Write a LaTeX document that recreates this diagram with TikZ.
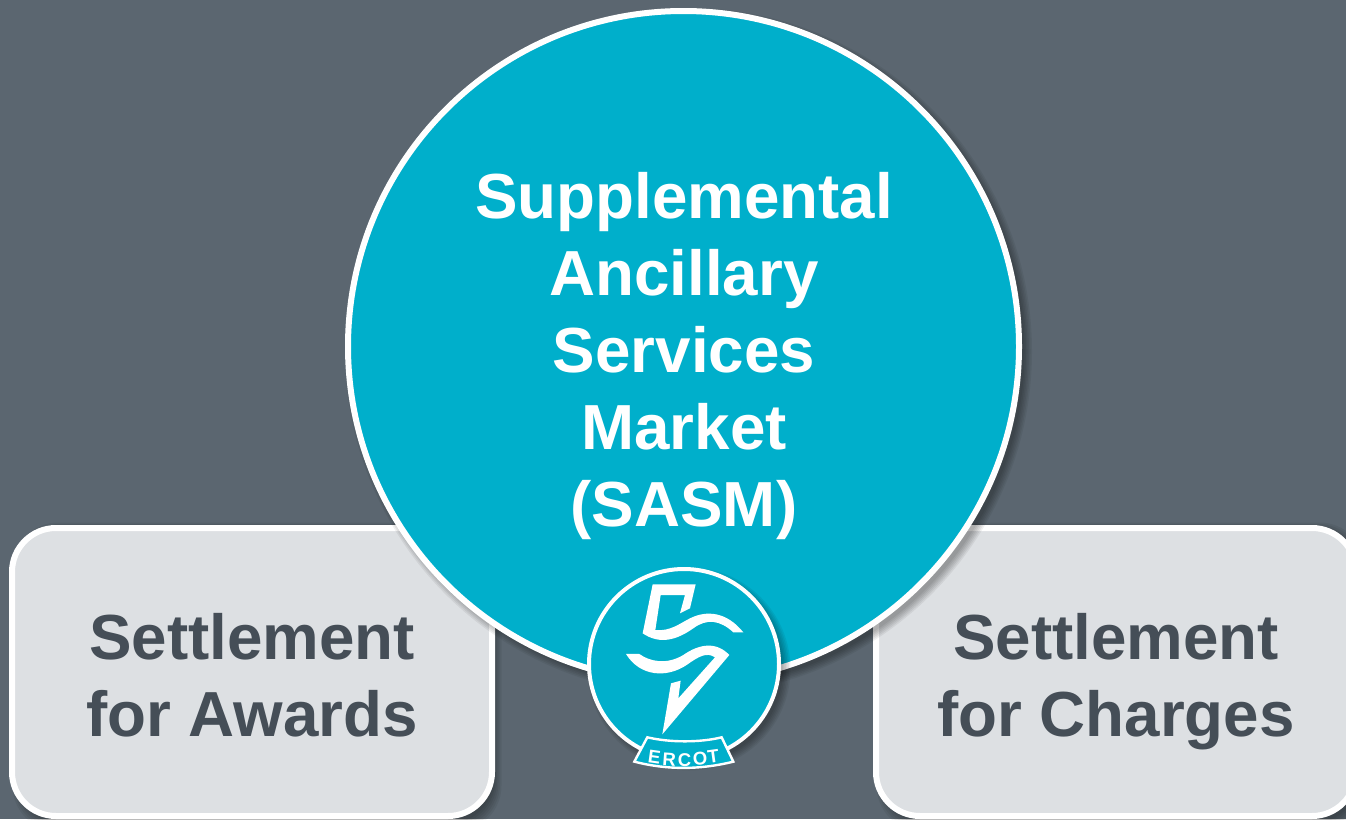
\documentclass[tikz,border=0pt]{standalone}
\usepackage{fontspec}
\setmainfont{Liberation Sans}
\definecolor{bgc}{HTML}{5B6670}
\definecolor{teal}{HTML}{00AFCB}
\definecolor{boxc}{HTML}{DDE0E3}
\definecolor{inkc}{HTML}{454E57}
\tikzset{
  settlebox/.style={draw=white,line width=6pt,fill=boxc,rounded corners=44pt,minimum width=480pt,minimum height=288pt,inner sep=0pt,outer sep=0pt},
  boxtext/.style={font=\fontsize{63.7}{77}\selectfont\bfseries,text=inkc,align=center,inner sep=0pt},
  circtext/.style={font=\fontsize{63.7}{77.2}\selectfont\bfseries,text=white,align=center,inner sep=0pt},
  bigcirc/.style={circle,draw=white,line width=6pt,fill=teal,minimum size=671pt,inner sep=0pt,outer sep=0pt},
  logocirc/.style={circle,draw=white,line width=4pt,fill=teal,minimum size=190pt,inner sep=0pt,outer sep=0pt},
  logoshape/.style={fill=white,draw=none},
  ercot/.style={font=\fontsize{18.5}{19}\selectfont\bfseries,text=white,inner sep=0pt},
  softshade/.style={black,opacity=0.06},
}
\begin{document}
\begin{tikzpicture}[x=1pt,y=-1pt]
\useasboundingbox (0,0) rectangle (1346,819);
\fill[bgc] (0,0) rectangle (1346,819);
\begin{scope}
\clip (0,0) rectangle (1346,819);
% box shadows
\foreach \e in {0,1.5,3,4.5,6,7.5}{
  \fill[softshade,rounded corners=46pt] (15-\e+5,525-\e+5) rectangle (489+\e+5,819+\e+5);
  \fill[softshade,rounded corners=46pt] (879-\e+5,525-\e+5) rectangle (1353+\e+5,819+\e+5);
}
\node[settlebox] (awards) at (252,672) {};
\node[settlebox] (charges) at (1116,672) {};
\node[boxtext] (awardstxt) at (252,682) {Settlement\\for Awards\vphantom{g}};
\node[boxtext] (chargestxt) at (1116,682) {Settlement\\for Charges};
% circle shadow
\foreach \e in {-2,-0.5,1,2.5,4,5.5}{
  \fill[softshade] (688.5,351.5) circle ({338+\e});
}
\node[bigcirc] (sasm) at (683.5,346.5) {};
\node[circtext] (sasmtxt) at (684,356) {Supplemental\\Ancillary\\Services\\Market\\(SASM)};
% logo shadow
\foreach \e in {-2,-0.5,1,2.5,4,5.5}{
  \fill[softshade] (689,669) circle ({96+\e});
}
\node[logocirc] (logo) at (684,664) {};
% logo artwork, drawn in 3x crop coordinates
\begin{scope}[shift={(570,550)},x=0.3333pt,y=-0.3333pt]
\fill[logoshape] (248,103) -- (377,103) -- (360,175) -- (330,190) -- (345,135) -- (272,135) -- (256,240)
  .. controls (300,245) and (330,220) .. (360,205)
  .. controls (410,180) and (470,185) .. (520,247)
  -- (490,247)
  .. controls (450,210) and (410,205) .. (370,235)
  .. controls (320,270) and (270,285) .. (218,250) -- cycle;
\fill[logoshape] (168,312) -- (208,312)
  .. controls (240,335) and (290,345) .. (340,315)
  .. controls (390,280) and (440,275) .. (478,315)
  -- (277,553) -- (303,400) -- (332,392) -- (325,445) -- (435,322)
  .. controls (410,305) and (385,320) .. (350,345)
  .. controls (290,385) and (210,380) .. (168,312) -- cycle;
\draw[white,line width=2.4pt,fill=teal,line join=miter] (232,562)
  .. controls (300,578) and (390,578) .. (455,562)
  -- (490,635)
  .. controls (390,660) and (290,660) .. (193,635) -- cycle;
\node[ercot,rotate=-8] (l1) at (253,621) {E};
\node[ercot,rotate=-4] (l2) at (298,628) {R};
\node[ercot,rotate=0] (l3) at (344,630) {C};
\node[ercot,rotate=4] (l4) at (390,626) {O};
\node[ercot,rotate=8] (l5) at (430,618) {T};
\end{scope}
\end{scope}
\end{tikzpicture}
\end{document}
